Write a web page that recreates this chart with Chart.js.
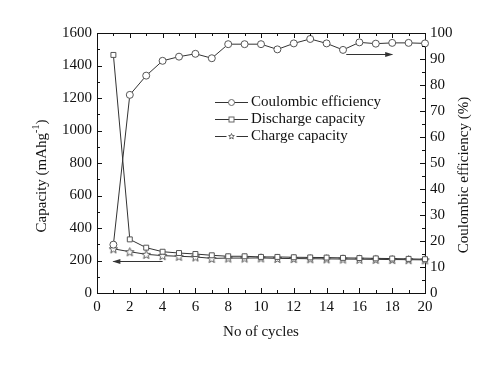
<!DOCTYPE html>
<html><head><meta charset="utf-8">
<script src="https://cdn.jsdelivr.net/npm/chart.js@4"></script>
<style>html,body{margin:0;padding:0;background:#fff}#wrap{width:500px;height:368px}</style>
</head><body><div id="wrap"><canvas id="c" width="500" height="368"></canvas></div>
<script>
const cycles = [1,2,3,4,5,6,7,8,9,10,11,12,13,14,15,16,17,18,19,20];
const coulombic = [18.6,76.2,83.6,89.3,90.9,92.0,90.3,95.7,95.7,95.7,93.7,96.0,97.7,96.0,93.5,96.4,95.9,96.2,96.2,96.0];
const discharge = [1465,330,279,254,246,240,232,226,226,222,222,220,219,218,216,215,213,212,210,208];
const charge = [272,254,238,230,226,222,213,215,215,216,213,212,211,210,209,208,207,206,205,204];
const seriesNames = ["Coulombic efficiency","Discharge capacity","Charge capacity"];
const xTitle = "No of cycles";
const yLeftTitle = "Capacity (mAhg";
const yRightTitle = "Coulombic efficiency (%)";
const leftArrow = {from:4, to:1, value:195};
const rightArrow = {from:15.2, to:18.0, value:91.8};

const FONT = "'Liberation Serif','Times New Roman',serif";
const INK = '#111';
const LINE = '#333';

function pts(arr){ return cycles.map((c,i)=>({x:c,y:arr[i]})); }

function starPath(ctx, cx, cy, R, r){
  ctx.beginPath();
  for(let k=0;k<10;k++){
    const rr = k%2 ? r : R;
    const ang = -Math.PI/2 + k*Math.PI/5;
    const px = cx + rr*Math.cos(ang), py = cy + rr*Math.sin(ang);
    k ? ctx.lineTo(px,py) : ctx.moveTo(px,py);
  }
  ctx.closePath();
}
const starImg = document.createElement('canvas');
starImg.width = 11; starImg.height = 11;
(function(){
  const c = starImg.getContext('2d');
  c.fillStyle = '#fff'; c.strokeStyle = '#555'; c.lineWidth = 1;
  starPath(c, 5.5, 6, 4.5, 2);
  c.fill(); c.stroke();
})();

const extras = {
  id:'extras',
  afterDatasetsDraw(chart){
    const ctx = chart.ctx, a = chart.chartArea;
    const xs = chart.scales.x, yl = chart.scales.y, yr = chart.scales.y1;
    ctx.save();
    ctx.strokeStyle = INK; ctx.lineWidth = 1;
    ctx.beginPath(); ctx.moveTo(a.left, a.top+0.5); ctx.lineTo(a.right, a.top+0.5); ctx.stroke();
    for(let v=0; v<=20; v+=1){
      const p = Math.round(xs.getPixelForValue(v))+0.5;
      const L = v%2===0 ? 5 : 3;
      ctx.beginPath(); ctx.moveTo(p,a.bottom); ctx.lineTo(p,a.bottom-L);
      ctx.moveTo(p,a.top); ctx.lineTo(p,a.top+L); ctx.stroke();
    }
    for(let v=0; v<=1600; v+=100){
      const p = Math.round(yl.getPixelForValue(v))+0.5;
      const L = v%200===0 ? 5 : 3;
      ctx.beginPath(); ctx.moveTo(a.left,p); ctx.lineTo(a.left+L,p); ctx.stroke();
    }
    for(let v=0; v<=100; v+=5){
      const p = Math.round(yr.getPixelForValue(v))+0.5;
      const L = v%10===0 ? 5 : 3;
      ctx.beginPath(); ctx.moveTo(a.right,p); ctx.lineTo(a.right-L,p); ctx.stroke();
    }
    function arrow(x1,x2,y){
      ctx.strokeStyle = LINE; ctx.fillStyle = LINE;
      ctx.beginPath(); ctx.moveTo(x1,y); ctx.lineTo(x2,y); ctx.stroke();
      const d = x2 > x1 ? 1 : -1;
      ctx.beginPath(); ctx.moveTo(x2+d*1,y); ctx.lineTo(x2-d*7,y-2.5); ctx.lineTo(x2-d*7,y+2.5); ctx.closePath(); ctx.fill();
    }
    arrow(xs.getPixelForValue(leftArrow.from), xs.getPixelForValue(leftArrow.to), Math.round(yl.getPixelForValue(leftArrow.value))+0.5);
    arrow(xs.getPixelForValue(rightArrow.from), xs.getPixelForValue(rightArrow.to), Math.round(yr.getPixelForValue(rightArrow.value))+0.5);
    const lx1 = 215, lx2 = 248, lys = [102,119,136];
    ctx.font = '15px '+FONT; ctx.textBaseline='middle'; ctx.textAlign='left';
    chart.data.datasets.forEach((ds,i)=>{
      const y = lys[i]+0.5, mx = (lx1+lx2)/2;
      ctx.strokeStyle = LINE; ctx.lineWidth = 1;
      ctx.beginPath();
      if(i===2){ ctx.moveTo(lx1,y); ctx.lineTo(mx-5,y); ctx.moveTo(mx+5,y); ctx.lineTo(lx2,y); }
      else { ctx.moveTo(lx1,y); ctx.lineTo(lx2,y); }
      ctx.stroke();
      ctx.strokeStyle = '#666'; ctx.fillStyle='#fff';
      if(i===0){ ctx.beginPath(); ctx.arc(mx,y,3,0,Math.PI*2); ctx.fill(); ctx.stroke(); }
      else if(i===1){ ctx.fillRect(mx-2.5,y-2.5,5,5); ctx.strokeRect(mx-2.5,y-2.5,5,5); }
      else { starPath(ctx, mx, y, 3, 1.3); ctx.fill(); ctx.stroke(); }
      ctx.fillStyle = INK;
      ctx.fillText(ds.label, lx2+3, lys[i]);
    });
    ctx.fillStyle = INK;
    ctx.font = '15px '+FONT; ctx.textAlign='center'; ctx.textBaseline='middle';
    ctx.fillText(xTitle, 261, 332);
    ctx.save();
    ctx.translate(42,176); ctx.rotate(-Math.PI/2);
    ctx.font = '15px '+FONT;
    const w1 = ctx.measureText(yLeftTitle).width;
    ctx.font = '10px '+FONT;
    const w2 = ctx.measureText('-1').width;
    ctx.font = '15px '+FONT;
    const w3 = ctx.measureText(')').width;
    let sx = -(w1+w2+w3)/2;
    ctx.textAlign='left';
    ctx.fillText(yLeftTitle, sx, 0);
    ctx.font = '10px '+FONT;
    ctx.fillText('-1', sx+w1, -6);
    ctx.font = '15px '+FONT;
    ctx.fillText(')', sx+w1+w2, 0);
    ctx.restore();
    ctx.save();
    ctx.translate(464,175); ctx.rotate(-Math.PI/2);
    ctx.textAlign='center';
    ctx.fillText(yRightTitle, 0, 0);
    ctx.restore();
    ctx.restore();
  }
};

const plain = v => String(v);

new Chart(document.getElementById('c'), {
  type:'line',
  data:{datasets:[
    {label:seriesNames[0], data:pts(coulombic), yAxisID:'y1', borderColor:LINE, borderWidth:1, pointStyle:'circle', pointRadius:3.5, pointBackgroundColor:'#fff', pointBorderColor:'#555', pointBorderWidth:1, tension:0},
    {label:seriesNames[1], data:pts(discharge), yAxisID:'y', borderColor:LINE, borderWidth:1, pointStyle:'rect', pointRadius:3.5, pointBackgroundColor:'#fff', pointBorderColor:'#555', pointBorderWidth:1, tension:0},
    {label:seriesNames[2], data:pts(charge), yAxisID:'y', borderColor:LINE, borderWidth:1, pointStyle:starImg, pointRadius:4, tension:0}
  ]},
  options:{
    responsive:false, animation:false, clip:false,
    layout:{padding:{top:33,left:0,right:0,bottom:0}},
    plugins:{legend:{display:false}, tooltip:{enabled:false}},
    scales:{
      x:{type:'linear', min:0, max:20, grid:{display:false, drawTicks:false}, border:{display:true,color:INK,width:1},
         ticks:{stepSize:2, padding:5, color:INK, font:{family:FONT,size:15}, maxRotation:0, callback:plain},
         afterFit(s){ s.height = 75; }},
      y:{type:'linear', position:'left', min:0, max:1600, grid:{display:false, drawTicks:false}, border:{display:true,color:INK,width:1},
         ticks:{stepSize:200, padding:5, color:INK, font:{family:FONT,size:15}, callback:plain},
         afterFit(s){ s.width = 97; }},
      y1:{type:'linear', position:'right', min:0, max:100, grid:{display:false, drawTicks:false}, border:{display:true,color:INK,width:1},
         ticks:{stepSize:10, padding:5, color:INK, font:{family:FONT,size:15}, callback:plain},
         afterFit(s){ s.width = 75; }}
    }
  },
  plugins:[extras]
});
</script></body></html>
